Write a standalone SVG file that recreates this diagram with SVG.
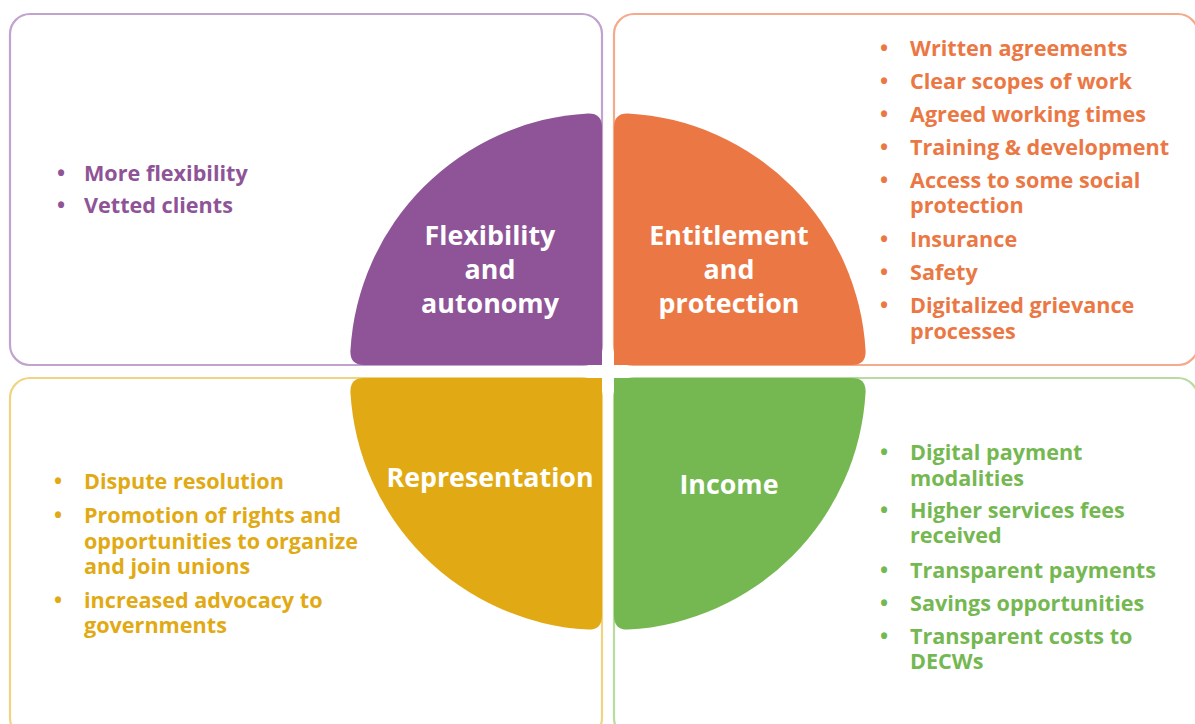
<svg xmlns="http://www.w3.org/2000/svg" width="1195" height="724" viewBox="0 0 1195 724">
<style>
.box{fill:#ffffff;stroke-width:2.2}
.t{font-family:"Open Sans","Liberation Sans",sans-serif;font-weight:700;font-size:21.6px}
.h{font-family:"Open Sans","Liberation Sans",sans-serif;font-weight:700;font-size:26.8px;fill:#ffffff;text-anchor:middle}
.pu{fill:#8e5497}.or{fill:#eb7844}.ye{fill:#e1aa14}.gr{fill:#75b852}
</style>
<rect width="1195" height="724" fill="#ffffff"/>
<g id="box-flexibility"><rect class="box" x="10" y="14" width="592" height="351" rx="20" stroke="#c0a3cf"/></g>
<g id="box-entitlement"><rect class="box" x="614" y="14" width="584" height="351" rx="20" stroke="#f4ab8c"/></g>
<g id="box-representation"><rect class="box" x="10" y="378" width="592" height="360" rx="20" stroke="#f0d383"/></g>
<g id="box-income"><rect class="box" x="614" y="378" width="584" height="360" rx="20" stroke="#b8dba0"/></g>

<g id="flexibility">
<path class="pu" d="M602,365 L602,127 Q602,113 588,113.4 A252,252 0 0 0 350.4,351 Q350,365 364,365 Z"/>
<text class="h"><tspan x="490" y="245">Flexibility</tspan><tspan x="490" y="279">and</tspan><tspan x="490" y="313">autonomy</tspan></text>
<g class="t pu">
<text x="57" y="181">•</text><text x="84" y="181">More flexibility</text>
<text x="57" y="213">•</text><text x="84" y="213">Vetted clients</text>
</g>
</g>

<g id="entitlement">
<path class="or" d="M614,365 L614,127 Q614,113 628,113.4 A252,252 0 0 1 865.6,351 Q866,365 852,365 Z"/>
<text class="h"><tspan x="729" y="245">Entitlement</tspan><tspan x="729" y="279">and</tspan><tspan x="729" y="313">protection</tspan></text>
<g class="t or">
<text x="880" y="56">•</text><text x="910" y="56">Written agreements</text>
<text x="880" y="89">•</text><text x="910" y="89">Clear scopes of work</text>
<text x="880" y="122">•</text><text x="910" y="122">Agreed working times</text>
<text x="880" y="155">•</text><text x="910" y="155">Training &amp; development</text>
<text x="880" y="188">•</text><text x="910" y="188">Access to some social</text>
<text x="910" y="213">protection</text>
<text x="880" y="247">•</text><text x="910" y="247">Insurance</text>
<text x="880" y="280">•</text><text x="910" y="280">Safety</text>
<text x="880" y="313">•</text><text x="910" y="313">Digitalized grievance</text>
<text x="910" y="339">processes</text>
</g>
</g>

<g id="representation">
<path class="ye" d="M602,378 L602,616 Q602,630 588,629.6 A252,252 0 0 1 350.4,392 Q350,378 364,378 Z"/>
<text class="h" x="490" y="487">Representation</text>
<g class="t ye">
<text x="54" y="489">•</text><text x="84" y="489">Dispute resolution</text>
<text x="54" y="523">•</text><text x="84" y="523">Promotion of rights and</text>
<text x="84" y="549">opportunities to organize</text>
<text x="84" y="574">and join unions</text>
<text x="54" y="608">•</text><text x="84" y="608">increased advocacy to</text>
<text x="84" y="633">governments</text>
</g>
</g>

<g id="income">
<path class="gr" d="M614,378 L852,378 Q866,378 865.6,392 A252,252 0 0 1 628,629.6 Q614,630 614,616 Z"/>
<text class="h" x="729" y="494">Income</text>
<g class="t gr">
<text x="880" y="460">•</text><text x="910" y="460">Digital payment</text>
<text x="910" y="486">modalities</text>
<text x="880" y="518">•</text><text x="910" y="518">Higher services fees</text>
<text x="910" y="543">received</text>
<text x="880" y="578">•</text><text x="910" y="578">Transparent payments</text>
<text x="880" y="611">•</text><text x="910" y="611">Savings opportunities</text>
<text x="880" y="644">•</text><text x="910" y="644">Transparent costs to</text>
<text x="910" y="669">DECWs</text>
</g>
</g>
<g id="connectors"></g>
</svg>
